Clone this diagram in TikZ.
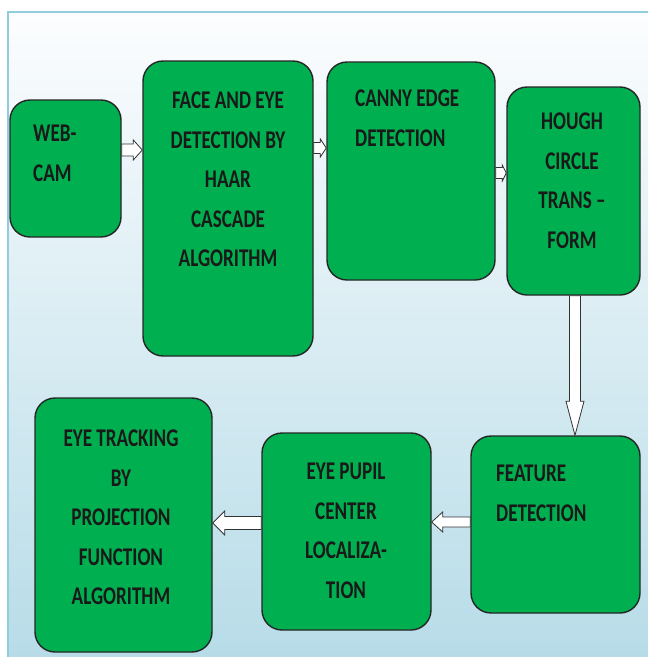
\documentclass[tikz,border=0pt]{standalone}
\usepackage{fontspec}
\setmainfont[FakeStretch=0.75]{Carlito}
\usetikzlibrary{calc}
\definecolor{boxgreen}{RGB}{0,176,80}
\definecolor{bgtop}{RGB}{252,253,254}
\definecolor{bgbot}{RGB}{183,220,232}
\definecolor{framecol}{RGB}{146,205,221}
\tikzset{
  box/.style={draw=black!85, line width=1.4pt, fill=boxgreen, rounded corners=20pt, inner sep=0pt},
  txt/.style={inner sep=0pt, font=\fontsize{25.5}{39.5}\selectfont\bfseries, text=black!90},
  hbarrow/.style n args={3}{to path={let \p1=(\tikztostart),\p2=(\tikztotarget),\p3=($(\p2)!#3!(\p1)$) in
    (\x1,\y1+#1) -- (\x3,\y1+#1) -- (\x3,\y1+#2) -- (\x2,\y2) -- (\x3,\y1-#2) -- (\x3,\y1-#1) -- (\x1,\y1-#1) -- cycle}},
  vbarrow/.style n args={3}{to path={let \p1=(\tikztostart),\p2=(\tikztotarget),\p3=($(\p2)!#3!(\p1)$) in
    (\x1+#1,\y1) -- (\x1+#1,\y3) -- (\x1+#2,\y3) -- (\x2,\y2) -- (\x1-#2,\y3) -- (\x1-#1,\y3) -- (\x1-#1,\y1) -- cycle}},
  arr/.style={draw=black!80, line width=0.8pt, fill=white, line join=miter},
}
\begin{document}
\begin{tikzpicture}[x=1pt,y=-1pt]
\useasboundingbox (0,0) rectangle (648,657);
\fill[white] (0,0) rectangle (648,657);
\fill[top color=bgtop, bottom color=bgbot] (8,12) rectangle (648,657);
\draw[framecol, line width=2pt] (8,657) -- (8,12) -- (648,12);

% boxes
\node[box, minimum width=111pt, minimum height=137pt] (web) at (65.5,168.5) {};
\node[box, minimum width=170pt, minimum height=295pt] (face) at (228,208.5) {};
\node[box, minimum width=168pt, minimum height=218pt] (canny) at (411,171) {};
\node[box, minimum width=133pt, minimum height=208pt] (hough) at (573.5,191) {};
\node[box, minimum width=169pt, minimum height=177pt] (feature) at (555.5,524.5) {};
\node[box, minimum width=169pt, minimum height=197pt] (pupil) at (346.5,531.5) {};
\node[box, minimum width=177pt, minimum height=254pt] (track) at (123.5,525) {};

% texts
\node[txt, anchor=north west, align=left] (webt) at (33,125) {WEB-\\CAM};
\node[txt, anchor=north, align=center] (facet) at (228,92) {FACE AND EYE\\DETECTION BY\\HAAR\\CASCADE\\ALGORITHM};
\node[txt, anchor=north west, align=left] (cannyt) at (355,90) {CANNY EDGE\\DETECTION};
\node[txt, anchor=north, align=center] (hought) at (572,113) {HOUGH\\CIRCLE\\TRANS –\\FORM};
\node[txt, anchor=north west, align=left] (featuret) at (496,465) {FEATURE\\DETECTION};
\node[txt, anchor=north, align=center] (pupilt) at (346,463) {EYE PUPIL\\CENTER\\LOCALIZA-\\TION};
\node[txt, anchor=north, align=center] (trackt) at (121,430) {EYE TRACKING\\BY\\PROJECTION\\FUNCTION\\ALGORITHM};

% arrows
\draw[arr] (web.east |- 0,150) to[hbarrow={6pt}{10pt}{9pt}] (face.west |- 0,150);
\draw[arr] (face.east |- 0,148) to[hbarrow={5.5pt}{9pt}{6pt}] (canny.west |- 0,148);
\draw[arr] (canny.east |- 0,173) to[hbarrow={5.5pt}{8pt}{4pt}] (hough.west |- 0,173);
\draw[arr] (hough.south -| 575,0) to[vbarrow={5.5pt}{9pt}{34pt}] (feature.north -| 575,0);
\draw[arr] (feature.west |- 0,522) to[hbarrow={5pt}{10pt}{11pt}] (pupil.east |- 0,522);
\draw[arr] (pupil.west |- 0,523) to[hbarrow={6.5pt}{12pt}{12pt}] (track.east |- 0,523);
\end{tikzpicture}
\end{document}
